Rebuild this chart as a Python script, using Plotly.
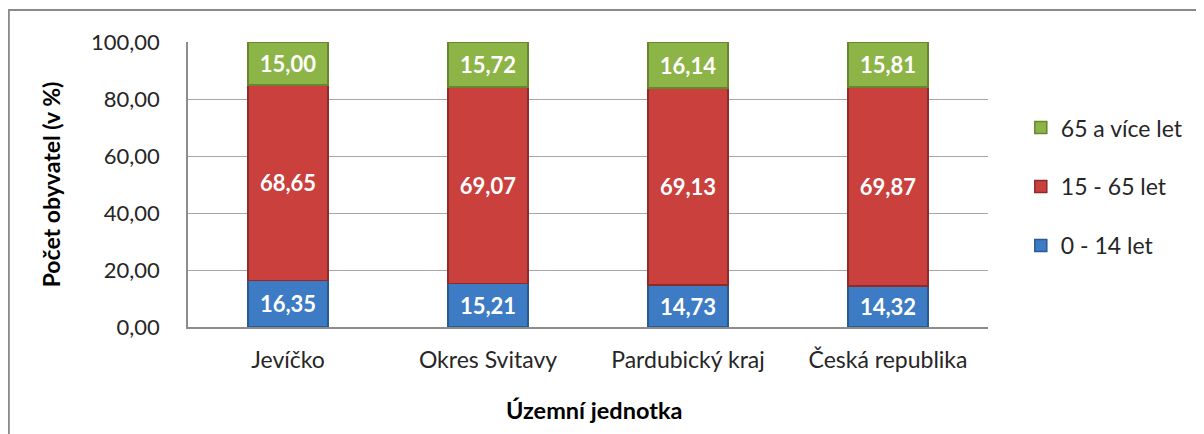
import plotly.graph_objects as go

categories = ["Jevíčko", "Okres Svitavy", "Pardubický kraj", "Česká republika"]
age_0_14 = [16.35, 15.21, 14.73, 14.32]
age_15_65 = [68.65, 69.07, 69.13, 69.87]
age_65_plus = [15.00, 15.72, 16.14, 15.81]
series_names = ["0 - 14 let", "15 - 65 let", "65 a více let"]
y_ticks = [0, 20, 40, 60, 80, 100]

FONT = "Lato, Calibri, Carlito, sans-serif"
fills = ["#3d7bc4", "#c9403d", "#8db447"]
edges = ["#2a5a92", "#8e2b29", "#67862f"]
ranks = [3, 2, 1]

fig = go.Figure()
for name, vals, fc, ec, rk in zip(series_names, [age_0_14, age_15_65, age_65_plus], fills, edges, ranks):
    fig.add_trace(go.Bar(
        x=categories, y=vals, name=name, legendgroup=name, legendrank=rk,
        marker=dict(color=fc, line=dict(color=ec, width=1.5)),
        texttemplate="%{y:.2f}", textposition="inside", insidetextanchor="middle",
        textangle=0,
        textfont=dict(family=FONT, size=22, color="white", weight="bold"),
        constraintext="none",
    ))

fig.update_layout(
    width=1204, height=434,
    barmode="stack", bargap=0.6,
    separators=",.",
    paper_bgcolor="white", plot_bgcolor="white",
    margin=dict(l=180, r=224, t=34, b=115),
    font=dict(family=FONT, size=22, color="#262626"),
    showlegend=True,
    legend=dict(
        x=1.041, y=0.775, xanchor="left", yanchor="top",
        traceorder="grouped", tracegroupgap=26,
        font=dict(family=FONT, size=23, color="#262626"),
        itemwidth=30, bgcolor="rgba(0,0,0,0)",
    ),
    uniformtext=dict(mode=False),
)
fig.update_xaxes(
    showline=True, linecolor="#8c8c8c", linewidth=1.5,
    ticks="", ticklabelstandoff=12,
    tickfont=dict(family=FONT, size=23, color="#262626"),
    mirror=False, fixedrange=True,
)
fig.update_yaxes(
    range=[0, 100], tickvals=y_ticks, tickformat=".2f",
    showgrid=True, gridcolor="#a6a6a6", gridwidth=1,
    showline=True, linecolor="#8c8c8c", linewidth=1.5,
    ticks="", ticklabelstandoff=22,
    tickfont=dict(family=FONT, size=22, color="#262626"),
    zeroline=False, fixedrange=True,
    title=dict(text="<b>Počet obyvatel (v %)</b>", standoff=24,
               font=dict(family=FONT, size=23, color="#000000")),
)
fig.add_annotation(
    text="<b>Územní jednotka</b>",
    xref="paper", yref="paper", x=0.508, y=-0.29, xanchor="center", yanchor="middle",
    showarrow=False, font=dict(family=FONT, size=23.5, color="#000000"),
)
fig.add_shape(
    type="rect", xref="paper", yref="paper",
    x0=-0.224, y0=-0.5, x1=1.3, y1=(319 - 2) / 285,
    line=dict(color="#8a8a8a", width=2), fillcolor="rgba(0,0,0,0)", layer="below",
)

fig.write_html("out.html")
